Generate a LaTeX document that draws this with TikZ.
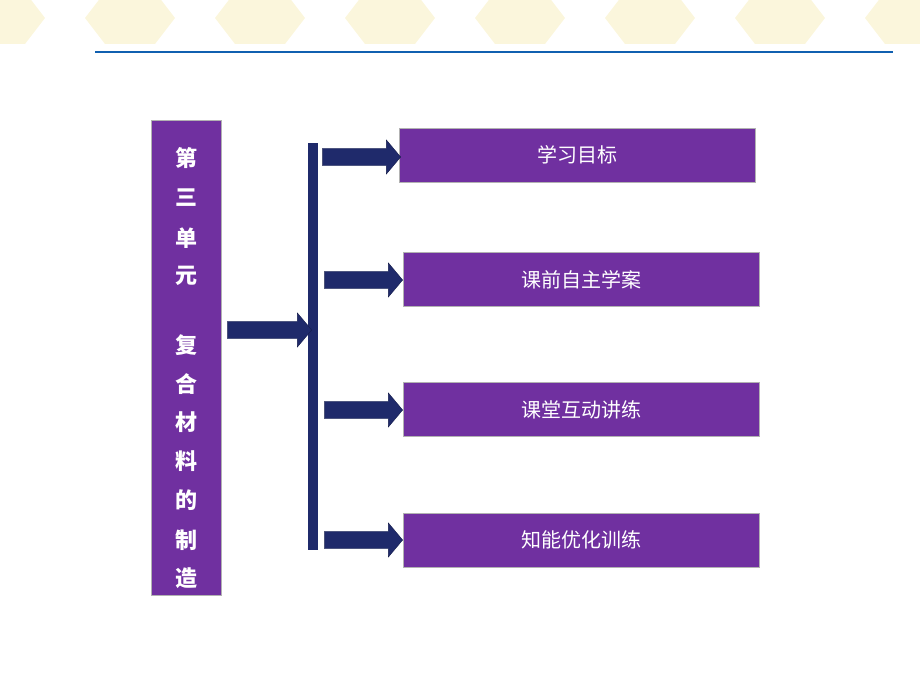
\documentclass[tikz,border=0pt]{standalone}
\usepackage{fontspec}
\newfontfamily\cjk{Noto Sans CJK SC}
\usetikzlibrary{shapes.arrows,positioning}
\definecolor{boxpurple}{HTML}{7030A0}
\definecolor{arrowblue}{HTML}{1F2A6B}
\definecolor{lineblue}{HTML}{1060B0}
\definecolor{hexyellow}{HTML}{FBF6DC}
\tikzset{
  topic/.style={draw=gray!60,fill=boxpurple,text=white,minimum width=356pt,minimum height=54pt,
    font=\cjk\fontsize{20pt}{20pt}\selectfont,inner sep=0pt},
  blockarrow/.style={single arrow,fill=arrowblue,draw=arrowblue!70!black,minimum height=78pt,
    minimum width=34pt,single arrow head extend=4pt,inner sep=4pt,single arrow tip angle=100}
}
\begin{document}
\begin{tikzpicture}[x=1pt,y=-1pt]
  \useasboundingbox (0,0) rectangle (920,690);
  % faint hexagons at the top
  \foreach \cx in {0,130,260,390,520,650,780,910}
    \fill[hexyellow] (\cx-45,18) -- (\cx-25,-8) -- (\cx+25,-8) -- (\cx+45,18) -- (\cx+25,44) -- (\cx-25,44) -- cycle;
  \draw[lineblue,line width=2.5pt] (95,52) -- (893,52);

  % title box
  \node[draw=gray!60,fill=boxpurple,minimum width=70pt,minimum height=475pt,inner sep=0pt]
    (title) at (186,357.5) {};
  \foreach \ch/\y in {第/158,三/198,单/238,元/276,复/345,合/384,材/422,料/461,的/500,制/540,造/578}
    \node[text=white,font=\cjk\bfseries\fontsize{22pt}{22pt}\selectfont] at (186,\y) {\ch};

  % bracket bar
  \fill[arrowblue] (308,143) rectangle (318,550);
  \node[blockarrow,minimum height=84pt] (main) at (266,330) {};

  % topics
  \node[topic] (t1) at (577,155) {学习目标};
  \node[topic] (t2) at (581,279.5) {课前自主学案};
  \node[topic] (t3) at (581,409.5) {课堂互动讲练};
  \node[topic] (t4) at (581,540) {知能优化训练};

  \node[blockarrow] at (358,157) {};
  \node[blockarrow] at (360,280) {};
  \node[blockarrow] at (360,410) {};
  \node[blockarrow] at (360,540) {};
\end{tikzpicture}
\end{document}
